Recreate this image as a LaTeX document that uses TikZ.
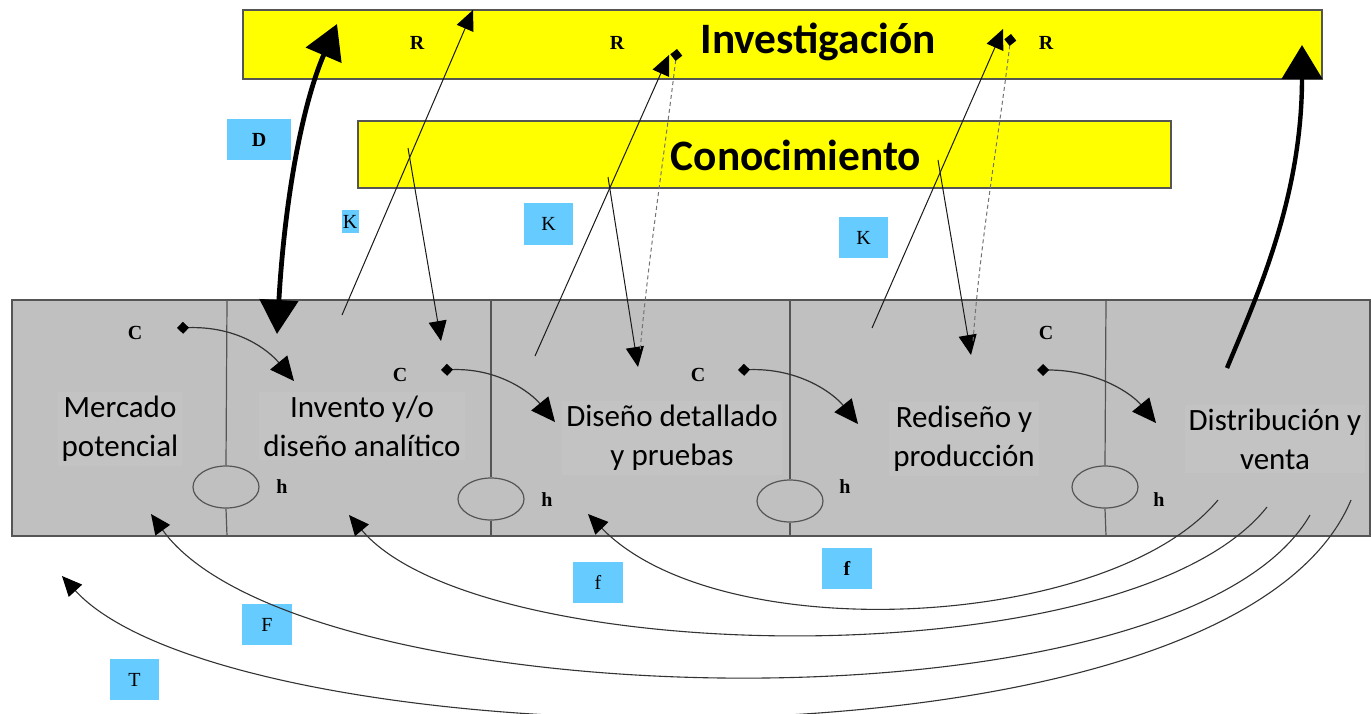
\documentclass[tikz,border=0pt]{standalone}
\usepackage{fontspec}
\setmainfont{Carlito}
\newfontfamily\smallserif{Liberation Serif}
\usetikzlibrary{arrows.meta,shapes.geometric}
\definecolor{boxgray}{HTML}{C0C0C0}
\definecolor{txtgray}{HTML}{C3C3C3}
\definecolor{lblue}{HTML}{66CCFF}
\definecolor{ylw}{HTML}{FFFF00}
\definecolor{edgegray}{HTML}{555555}
\begin{document}
\begin{tikzpicture}[x=0.5pt,y=-0.5pt,
  bar/.style={draw=edgegray,fill=ylw,line width=0.7pt,inner sep=0},
  bartext/.style={font=\fontsize{21.7pt}{26pt}\selectfont\bfseries,inner sep=0},
  panel/.style={draw=edgegray,fill=boxgray,line width=0.7pt,inner sep=0},
  stagetext/.style={font=\fontsize{15.5pt}{19.5pt}\selectfont,align=center,inner sep=2pt,fill=txtgray},
  lbl/.style={font=\smallserif\fontsize{10pt}{11pt}\selectfont\bfseries,inner sep=0},
  lblbox/.style={fill=lblue,inner sep=0,font=\smallserif\fontsize{10pt}{11pt}\selectfont},
  hole/.style={ellipse,draw=edgegray,fill=boxgray,line width=0.6pt,minimum width=33pt,minimum height=21pt,inner sep=0},
  divider/.style={draw=edgegray,line width=0.6pt},
  thinarrow/.style={draw=black!90,line width=0.5pt,-{Triangle[length=10pt,width=9pt,color=black]}},
  carrow/.style={draw=black!80,line width=0.6pt,{Diamond[length=6pt,width=6pt,color=black]}-{Triangle[length=12pt,width=11pt,color=black]}},
  dashline/.style={draw=black!55,line width=0.5pt,dash pattern=on 2pt off 1.5pt,{Diamond[length=6pt,width=6pt,color=black,fill=black]}-},
  thickarrow/.style={line width=2.4pt,{Triangle[length=17pt,width=19pt]}-{Triangle[length=17pt,width=19pt]}},
  thickup/.style={line width=2.2pt,-{Triangle[length=17pt,width=20pt]}},
  arcarrow/.style={draw=black!80,line width=0.55pt,-{Triangle[length=10pt,width=9pt,color=black]}}
]
\fill[white] (0,0) rectangle (1371,713);
\useasboundingbox (0,0) rectangle (1371,713);

% bars
\node[bar,minimum width=539.5pt,minimum height=34.5pt] (inv) at (782.5,44.5) {};
\node[bartext] (invt) at (818,42) {Investigación};
\node[bar,minimum width=406.5pt,minimum height=33.5pt] (con) at (764.5,154.5) {};
\node[bartext] (cont) at (796,155) {Conocimiento};

% panel
\node[panel,minimum width=679pt,minimum height=118pt] (panel) at (691,418) {};

% holes and dividers
\node[hole] (h1) at (226,487) {};
\node[hole] (h2) at (491,499) {};
\node[hole] (h3) at (790,501) {};
\node[hole] (h4) at (1105,487) {};
\coordinate (d1t) at (227,300); \coordinate (d1b) at (227,536);
\coordinate (d2t) at (491,300); \coordinate (d2b) at (491,536);
\coordinate (d3t) at (790,300); \coordinate (d3b) at (790,536);
\coordinate (d4t) at (1106,300); \coordinate (d4b) at (1106,536);
\draw[divider] (d1t) -- (h1.north) (h1.south) -- (d1b);
\draw[divider] (d2t) -- (h2.north) (h2.south) -- (d2b);
\draw[divider] (d3t) -- (h3.north) (h3.south) -- (d3b);
\draw[divider] (d4t) -- (h4.north) (h4.south) -- (d4b);

% stage texts
\node[stagetext] (s1) at (120,429) {Mercado\\potencial};
\node[stagetext] (s2) at (362,426) {Invento y/o\\diseño analítico};
\node[stagetext] (s3) at (672,438) {Diseño detallado\\y pruebas};
\node[stagetext] (s4) at (964,439) {Rediseño y\\producción};
\node[stagetext] (s5) at (1275,439) {Distribución y\\venta};

% small labels
\node[lbl] (r1) at (417,43) {R};
\node[lbl] (r2) at (617,43) {R};
\node[lbl] (r3) at (1046,43) {R};
\node[lbl] (c1) at (135,333) {C};
\node[lbl] (c2) at (400,375) {C};
\node[lbl] (c3) at (698,375) {C};
\node[lbl] (c4) at (1046,333) {C};
\node[lbl] (hl1) at (282,487) {h};
\node[lbl] (hl2) at (547,500) {h};
\node[lbl] (hl3) at (845,487) {h};
\node[lbl] (hl4) at (1159,500) {h};

% blue label boxes
\node[lblbox,minimum width=32pt,minimum height=20.5pt,font=\smallserif\fontsize{10pt}{11pt}\selectfont\bfseries] (D) at (259,139.5) {D};
\node[lblbox,minimum width=8.5pt,minimum height=11.5pt] (K1) at (350,221.5) {K};
\node[lblbox,minimum width=24.5pt,minimum height=21pt] (K2) at (548.5,224) {K};
\node[lblbox,minimum width=24.5pt,minimum height=20.5pt] (K3) at (863.5,237.5) {K};
\node[lblbox,minimum width=25pt,minimum height=20.5pt] (f1) at (598,582.5) {f};
\node[lblbox,minimum width=25pt,minimum height=20.5pt,font=\smallserif\fontsize{10pt}{11pt}\selectfont\bfseries] (f2) at (847,568.5) {f};
\node[lblbox,minimum width=25pt,minimum height=20.5pt] (F) at (267,624.5) {F};
\node[lblbox,minimum width=24.5pt,minimum height=20.5pt] (T) at (134.5,679.5) {T};

% coordinates for connector ends
\coordinate (up1s) at (342,315); \coordinate (up1e) at (473,10);
\coordinate (up2s) at (535,356); \coordinate (up2e) at (669,55);
\coordinate (up3s) at (872,328); \coordinate (up3e) at (1003,29);
\coordinate (dn1s) at (408,148); \coordinate (dn1e) at (441,341);
\coordinate (dn2s) at (608,177); \coordinate (dn2e) at (638,367);
\coordinate (dn3s) at (938,160); \coordinate (dn3e) at (971,355);
\coordinate (dm2) at (677,49); \coordinate (dm2e) at (640,352);
\coordinate (dm3) at (1011,34); \coordinate (dm3e) at (973,342);
\coordinate (cs1) at (177,328); \coordinate (ce1) at (294,381);
\coordinate (cs2) at (441,370); \coordinate (ce2) at (555,422);
\coordinate (cs3) at (738,370); \coordinate (ce3) at (858,424);
\coordinate (cs4) at (1037,370); \coordinate (ce4) at (1156,423);
\coordinate (Dlow) at (277,334); \coordinate (Dtop) at (337,24);
\coordinate (Rs) at (1227,368); \coordinate (Re) at (1302,45);
\coordinate (a1s) at (1218,500); \coordinate (a1e) at (588,514);
\coordinate (a2s) at (1267,507); \coordinate (a2e) at (349,515);
\coordinate (a3s) at (1310,515); \coordinate (a3e) at (151,514);
\coordinate (a4s) at (1351,500); \coordinate (a4e) at (62,576);

% up arrows to Investigacion
\draw[thinarrow] (up1s) -- (up1e);
\draw[thinarrow] (up2s) -- (up2e);
\draw[thinarrow] (up3s) -- (up3e);
% down arrows from Conocimiento
\draw[thinarrow] (dn1s) -- (dn1e);
\draw[thinarrow] (dn2s) -- (dn2e);
\draw[thinarrow] (dn3s) -- (dn3e);
% dashed links
\draw[dashline] (dm2) .. controls (665,150) and (648,260) .. (dm2e);
\draw[dashline] (dm3) .. controls (1000,130) and (980,240) .. (dm3e);

% C arrows
\draw[carrow] (cs1) .. controls (240,326) and (270,352) .. (ce1);
\draw[carrow] (cs2) .. controls (500,368) and (532,394) .. (ce2);
\draw[carrow] (cs3) .. controls (800,368) and (834,394) .. (ce3);
\draw[carrow] (cs4) .. controls (1098,370) and (1132,394) .. (ce4);

% thick arrows
\draw[thickarrow] (Dlow) .. controls (284,210) and (300,110) .. (Dtop);
\draw[thickup] (Rs) .. controls (1255,300) and (1302,200) .. (Re);

% bottom arcs
\draw[arcarrow] (a1s) .. controls (1110,630) and (720,650) .. (a1e);
\draw[arcarrow] (a2s) .. controls (1130,680) and (480,670) .. (a2e);
\draw[arcarrow] (a3s) .. controls (1180,740) and (300,720) .. (a3e);
\draw[arcarrow] (a4s) .. controls (1230,790) and (230,760) .. (a4e);
\end{tikzpicture}
\end{document}
